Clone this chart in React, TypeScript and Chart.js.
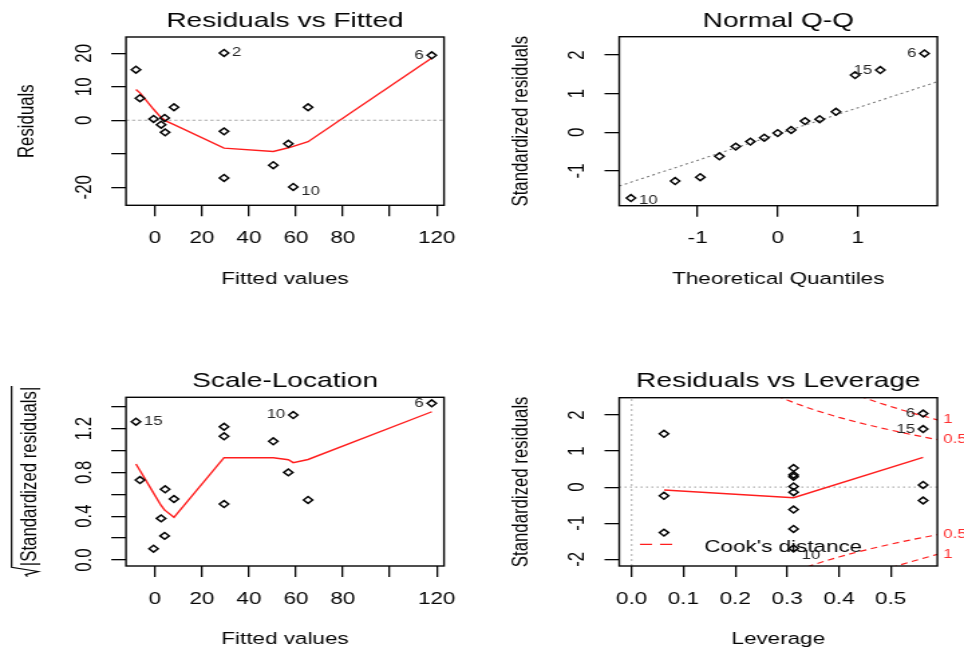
import React, { useEffect, useRef } from "react";
import { Chart, registerables } from "chart.js";

Chart.register(...registerables);

const FONT = "'Liberation Sans', Arial, Helvetica, sans-serif";
const INK = "#050505";
const RED = "#ff1e1e";

// ---- observations (same order in every array) ----
const fittedValues = [-8.1, -6.4, -0.6, 2.6, 4.1, 4.3, 8.1, 29.4, 29.4, 29.4, 50.4, 56.8, 58.9, 65.2, 117.9];
const residualValues = [15.1, 6.6, 0.4, -1.3, 0.7, -3.6, 3.9, 20.1, -3.3, -17.2, -13.4, -7.0, -19.9, 3.9, 19.4];
const sqrtStdResid = [1.263, 0.73, 0.103, 0.38, 0.22, 0.646, 0.557, 1.217, 0.511, 1.13, 1.084, 0.8, 1.324, 0.548, 1.431];

// lowess smooths through the sorted fitted values
const smoothFitted = [-8.1, -6.4, -0.6, 2.6, 4.1, 4.3, 8.1, 29.4, 50.4, 56.8, 58.9, 65.2, 117.9];
const residSmooth = [9.2, 8.2, 3.3, 0.8, 0.1, -0.1, -1.3, -8.3, -9.3, -8.2, -7.8, -6.4, 18.6];
const scaleSmooth = [0.877, 0.817, 0.611, 0.498, 0.456, 0.453, 0.39, 0.934, 0.934, 0.916, 0.889, 0.918, 1.354];

// normal Q-Q
const theoreticalQuantiles = [-1.834, -1.282, -0.967, -0.728, -0.524, -0.341, -0.168, 0, 0.168, 0.341, 0.524, 0.728, 0.967, 1.282, 1.834];
const sortedStdResid = [-1.7, -1.26, -1.16, -0.62, -0.37, -0.24, -0.14, -0.02, 0.06, 0.29, 0.34, 0.53, 1.48, 1.61, 2.04];
const qqIntercept = -0.045;
const qqSlope = 0.679;

// residuals vs leverage
const leverageValues = [0.0625, 0.0625, 0.0625, 0.3125, 0.3125, 0.3125, 0.3125, 0.3125, 0.3125, 0.3125, 0.3125, 0.5625, 0.5625, 0.5625, 0.5625];
const leverageStdResid = [1.48, -0.24, -1.26, 0.53, 0.34, 0.29, 0.02, -0.14, -0.62, -1.16, -1.7, 2.04, 1.61, 0.06, -0.37];
const leverageSmoothX = [0.0625, 0.3125, 0.5625];
const leverageSmoothY = [-0.079, -0.292, 0.827];

// Cook's distance contours (upper branch; lower branch is its mirror)
const cookHalfH = [0.28, 0.3, 0.32, 0.34, 0.36, 0.38, 0.4, 0.42, 0.44, 0.46, 0.48, 0.5, 0.52, 0.54, 0.56, 0.58, 0.59];
const cookHalfR = [2.536, 2.415, 2.305, 2.203, 2.108, 2.02, 1.936, 1.858, 1.784, 1.713, 1.646, 1.581, 1.519, 1.459, 1.402, 1.346, 1.318];
const cookOneH = [0.42, 0.44, 0.46, 0.48, 0.5, 0.52, 0.54, 0.56, 0.58, 0.59];
const cookOneR = [2.628, 2.523, 2.423, 2.327, 2.236, 2.148, 2.063, 1.983, 1.903, 1.864];

// labelled observations
const residIdIndex = [7, 12, 14];
const residIdText = ["2", "10", "6"];
const scaleIdIndex = [0, 12, 14];
const scaleIdText = ["15", "10", "6"];
const qqIdIndex = [0, 13, 14];
const qqIdText = ["10", "15", "6"];
const levIdIndex = [10, 12, 11];
const levIdText = ["10", "15", "6"];

// axis ticks and their labels
const fitTicks = [0, 20, 40, 60, 80, 100, 120];
const fitTickText = ["0", "20", "40", "60", "80", "", "120"];
const residTicks = [-20, -10, 0, 10, 20];
const residTickText = ["-20", "", "0", "10", "20"];
const qqXTicks = [-1, 0, 1];
const qqXTickText = ["-1", "0", "1"];
const qqYTicks = [-1, 0, 1, 2];
const qqYTickText = ["-1", "0", "1", "2"];
const scaleYTicks = [0, 0.2, 0.4, 0.6, 0.8, 1.0, 1.2, 1.4];
const scaleYTickText = ["0.0", "", "0.4", "", "0.8", "", "1.2", ""];
const levXTicks = [0, 0.1, 0.2, 0.3, 0.4, 0.5];
const levXTickText = ["0.0", "0.1", "0.2", "0.3", "0.4", "0.5"];
const levYTicks = [-2, -1, 0, 1, 2];
const levYTickText = ["-2", "-1", "0", "1", "2"];

// axis ranges
const fitRange = [-12.35, 123.1];
const residRange = [-25.37, 24.87];
const qqXRange = [-1.98, 1.995];
const qqYRange = [-1.898, 2.473];
const scaleYRange = [-0.055, 1.486];
const levXRange = [-0.0239, 0.59];
const levYRange = [-2.186, 2.48];

// ---- panel geometry (canvas pixels; canvas is widened on screen) ----
const PANEL_W = 360;
const PANEL_H = 290;
const DISPLAY_W = 482;
const AXIS_SIZE = 16.8;
const TITLE_SIZE = 21;
const ID_SIZE = 12.5;
const TICK_LEN = 11;

type Frame = { left: number; right: number; top: number; bottom: number };

const pts = (xs: number[], ys: number[]) => xs.map((x, i) => ({ x, y: ys[i] }));

const framePlugin = {
  id: "frameBox",
  afterDraw(chart: any) {
    const { ctx, chartArea: a } = chart;
    ctx.save();
    ctx.strokeStyle = INK;
    ctx.lineWidth = 1.4;
    ctx.strokeRect(a.left, a.top, a.right - a.left, a.bottom - a.top);
    ctx.restore();
  },
};

// y tick labels written parallel to the axis
const yTickTextPlugin = {
  id: "yTickText",
  afterDraw(chart: any, _args: any, opts: any) {
    if (!opts || !opts.text) return;
    const { ctx, chartArea: a } = chart;
    const s = chart.scales.y;
    ctx.save();
    ctx.font = `${AXIS_SIZE}px ${FONT}`;
    ctx.fillStyle = INK;
    ctx.textAlign = "center";
    ctx.textBaseline = "middle";
    const x = a.left - opts.offset;
    s.ticks.forEach((t: any, i: number) => {
      const label = opts.text[i];
      if (!label) return;
      ctx.save();
      ctx.translate(x, s.getPixelForValue(t.value));
      ctx.rotate(-Math.PI / 2);
      ctx.fillText(label, 0, 0);
      ctx.restore();
    });
    ctx.restore();
  },
};

// observation numbers next to the most extreme points
const idLabelPlugin = {
  id: "idLabels",
  afterDatasetsDraw(chart: any, _args: any, opts: any) {
    if (!opts || !opts.index) return;
    const { ctx } = chart;
    const meta = chart.getDatasetMeta(0);
    const data = chart.data.datasets[0].data;
    const xs = opts.index.map((i: number) => data[i].x);
    const mid = (Math.min(...xs) + Math.max(...xs)) / 2;
    ctx.save();
    ctx.font = `${ID_SIZE}px ${FONT}`;
    ctx.fillStyle = "#262626";
    ctx.textBaseline = "middle";
    opts.index.forEach((idx: number, k: number) => {
      const d = data[idx];
      const el = meta.data[idx];
      const toLeft = d.x > mid;
      ctx.textAlign = toLeft ? "right" : "left";
      const dx = toLeft ? -opts.gap : opts.gap;
      const dy = d.y < 0 ? opts.drop : 0;
      ctx.fillText(opts.text[k], el.x + dx, el.y + dy);
    });
    ctx.restore();
  },
};

const radicalTitlePlugin = {
  id: "radicalTitle",
  afterDraw(chart: any, _args: any, opts: any) {
    if (!opts || !opts.text) return;
    const { ctx, chartArea: a } = chart;
    const size = AXIS_SIZE;
    ctx.save();
    ctx.font = `${size}px ${FONT}`;
    const tw = ctx.measureText(opts.text).width;
    const rw = size * 0.62;
    const total = rw + tw;
    ctx.translate(opts.baselineX, (a.top + a.bottom) / 2);
    ctx.rotate(-Math.PI / 2);
    const x0 = -total / 2;
    ctx.fillStyle = INK;
    ctx.textAlign = "left";
    ctx.textBaseline = "alphabetic";
    ctx.fillText(opts.text, x0 + rw, 0);
    const barY = -size * 1.08;
    ctx.strokeStyle = INK;
    ctx.lineWidth = 1.2;
    ctx.beginPath();
    ctx.moveTo(x0, -size * 0.38);
    ctx.lineTo(x0 + size * 0.12, -size * 0.46);
    ctx.lineTo(x0 + size * 0.3, size * 0.1);
    ctx.lineTo(x0 + size * 0.55, barY);
    ctx.lineTo(x0 + rw + tw + size * 0.05, barY);
    ctx.stroke();
    ctx.restore();
  },
};

const cookLabelPlugin = {
  id: "cookLabels",
  afterDraw(chart: any, _args: any, opts: any) {
    if (!opts || !opts.items) return;
    const { ctx, chartArea: a } = chart;
    const y = chart.scales.y;
    ctx.save();
    ctx.font = `${ID_SIZE}px ${FONT}`;
    ctx.fillStyle = "#ff3030";
    ctx.textAlign = "left";
    ctx.textBaseline = "middle";
    opts.items.forEach((it: any) => {
      ctx.fillText(it.text, a.right + opts.gap, y.getPixelForValue(it.value));
    });
    ctx.restore();
  },
};

const cookLegendPlugin = {
  id: "cookLegend",
  afterDraw(chart: any, _args: any, opts: any) {
    if (!opts || !opts.text) return;
    const { ctx, chartArea: a } = chart;
    ctx.save();
    ctx.strokeStyle = RED;
    ctx.lineWidth = 1.3;
    ctx.setLineDash([9, 6]);
    ctx.beginPath();
    ctx.moveTo(a.left + 15.5, a.bottom - 21.7);
    ctx.lineTo(a.left + 44, a.bottom - 21.7);
    ctx.stroke();
    ctx.setLineDash([]);
    ctx.font = `${AXIS_SIZE}px ${FONT}`;
    ctx.fillStyle = INK;
    ctx.textAlign = "left";
    ctx.textBaseline = "middle";
    ctx.fillText(opts.text, a.left + 63.5, a.bottom - 18.3);
    ctx.restore();
  },
};

const tickGrid = {
  drawOnChartArea: false,
  drawTicks: true,
  tickLength: TICK_LEN,
  color: INK,
  lineWidth: 1.3,
};

function axisX(frame: Frame, range: number[], ticks: number[], text: string[], title: string) {
  return {
    type: "linear",
    position: "bottom",
    min: range[0],
    max: range[1],
    bounds: "data",
    afterBuildTicks: (s: any) => {
      s.ticks = ticks.map((v) => ({ value: v }));
    },
    afterFit: (s: any) => {
      s.height = PANEL_H - frame.bottom;
    },
    grid: tickGrid,
    border: { display: false },
    ticks: {
      autoSkip: false,
      maxRotation: 0,
      minRotation: 0,
      padding: 13.6,
      color: INK,
      font: { family: FONT, size: AXIS_SIZE, lineHeight: 1 },
      callback: (_v: any, i: number) => text[i],
    },
    title: {
      display: true,
      text: title,
      color: INK,
      font: { family: FONT, size: AXIS_SIZE, lineHeight: 1 },
      padding: { top: 0, bottom: 2.3 },
    },
  };
}

function axisY(frame: Frame, range: number[], ticks: number[], title: string | null, titlePad: number) {
  return {
    type: "linear",
    position: "left",
    min: range[0],
    max: range[1],
    bounds: "data",
    afterBuildTicks: (s: any) => {
      s.ticks = ticks.map((v) => ({ value: v }));
    },
    afterFit: (s: any) => {
      s.width = frame.left;
    },
    grid: tickGrid,
    border: { display: false },
    ticks: { display: false },
    title: title
      ? {
          display: true,
          text: title,
          color: INK,
          font: { family: FONT, size: AXIS_SIZE, lineHeight: 1 },
          padding: { top: titlePad, bottom: 0 },
        }
      : { display: false },
  };
}

function baseOptions(frame: Frame, title: string, scales: any, extra: any) {
  return {
    responsive: false,
    maintainAspectRatio: false,
    animation: false,
    devicePixelRatio: 1,
    events: [],
    layout: { autoPadding: false, padding: { left: 0, top: 0, bottom: 0, right: PANEL_W - frame.right } },
    scales,
    plugins: {
      legend: { display: false },
      tooltip: { enabled: false },
      title: {
        display: true,
        text: title,
        fullSize: false,
        color: INK,
        font: { family: FONT, size: TITLE_SIZE, weight: "normal", lineHeight: 1 },
        padding: { top: 10.3, bottom: frame.top - TITLE_SIZE - 10.3 },
      },
      ...extra,
    },
  };
}

const pointStyle = {
  showLine: false,
  pointStyle: "rectRot",
  pointRadius: 3.4,
  pointBorderColor: INK,
  pointBackgroundColor: "rgba(0,0,0,0)",
  pointBorderWidth: 1.5,
};

const lineStyle = (color: string, dash: number[], width = 1.4) => ({
  showLine: true,
  borderColor: color,
  borderWidth: width,
  borderDash: dash,
  pointRadius: 0,
  tension: 0,
  fill: false,
});

const PLUGINS = [framePlugin, yTickTextPlugin, idLabelPlugin, radicalTitlePlugin, cookLabelPlugin, cookLegendPlugin];

const frameFitted: Frame = { left: 94.1, right: 331.6, top: 37, bottom: 205.3 };
const frameQQ: Frame = { left: 102.5, right: 340.1, top: 36.7, bottom: 205.7 };
const frameScale: Frame = { left: 94.1, right: 331.6, top: 37.3, bottom: 206 };
const frameLev: Frame = { left: 102.5, right: 340.1, top: 37.7, bottom: 206 };

function residualsVsFitted() {
  return {
    type: "scatter",
    data: {
      datasets: [
        { data: pts(fittedValues, residualValues), ...pointStyle },
        { data: pts(smoothFitted, residSmooth), ...lineStyle(RED, []) },
        { data: pts(fitRange, [0, 0]), ...lineStyle("#a8a8a8", [2.5, 2], 1.1) },
      ],
    },
    options: baseOptions(
      frameFitted,
      "Residuals vs Fitted",
      {
        x: axisX(frameFitted, fitRange, fitTicks, fitTickText, "Fitted values"),
        y: axisY(frameFitted, residRange, residTicks, "Residuals", 12.4),
      },
      {
        yTickText: { text: residTickText, offset: 30.8 },
        idLabels: { index: residIdIndex, text: residIdText, gap: 6, drop: 5 },
      }
    ),
    plugins: PLUGINS,
  };
}

function normalQQ() {
  return {
    type: "scatter",
    data: {
      datasets: [
        { data: pts(theoreticalQuantiles, sortedStdResid), ...pointStyle },
        {
          data: pts(qqXRange, qqXRange.map((q) => qqIntercept + qqSlope * q)),
          ...lineStyle("#7a7a7a", [2, 2.5], 1.1),
        },
      ],
    },
    options: baseOptions(
      frameQQ,
      "Normal Q-Q",
      {
        x: axisX(frameQQ, qqXRange, qqXTicks, qqXTickText, "Theoretical Quantiles"),
        y: axisY(frameQQ, qqYRange, qqYTicks, "Standardized residuals", 20.6),
      },
      {
        yTickText: { text: qqYTickText, offset: 30.8 },
        idLabels: { index: qqIdIndex, text: qqIdText, gap: 6, drop: 3 },
      }
    ),
    plugins: PLUGINS,
  };
}

function scaleLocation() {
  return {
    type: "scatter",
    data: {
      datasets: [
        { data: pts(fittedValues, sqrtStdResid), ...pointStyle },
        { data: pts(smoothFitted, scaleSmooth), ...lineStyle(RED, []) },
      ],
    },
    options: baseOptions(
      frameScale,
      "Scale-Location",
      {
        x: axisX(frameScale, fitRange, fitTicks, fitTickText, "Fitted values"),
        y: axisY(frameScale, scaleYRange, scaleYTicks, null, 0),
      },
      {
        yTickText: { text: scaleYTickText, offset: 30.8 },
        idLabels: { index: scaleIdIndex, text: scaleIdText, gap: 6, drop: 0 },
        radicalTitle: { text: "|Standardized residuals|", baselineX: 26.8 },
      }
    ),
    plugins: PLUGINS,
  };
}

function residualsVsLeverage() {
  const lastHalf = cookHalfR[cookHalfR.length - 1];
  const lastOne = cookOneR[cookOneR.length - 1];
  const cookDash = [5, 3.5];
  return {
    type: "scatter",
    data: {
      datasets: [
        { data: pts(leverageValues, leverageStdResid), ...pointStyle },
        { data: pts(leverageSmoothX, leverageSmoothY), ...lineStyle(RED, []) },
        { data: pts(levXRange, [0, 0]), ...lineStyle("#b0b0b0", [1.5, 2.5], 1.1) },
        { data: pts([0, 0], levYRange), ...lineStyle("#b0b0b0", [2, 3], 1.1) },
        { data: pts(cookHalfH, cookHalfR), ...lineStyle(RED, cookDash, 1.2) },
        { data: pts(cookHalfH, cookHalfR.map((r) => -r)), ...lineStyle(RED, cookDash, 1.2) },
        { data: pts(cookOneH, cookOneR), ...lineStyle(RED, cookDash, 1.2) },
        { data: pts(cookOneH, cookOneR.map((r) => -r)), ...lineStyle(RED, cookDash, 1.2) },
      ],
    },
    options: baseOptions(
      frameLev,
      "Residuals vs Leverage",
      {
        x: axisX(frameLev, levXRange, levXTicks, levXTickText, "Leverage"),
        y: axisY(frameLev, levYRange, levYTicks, "Standardized residuals", 20.6),
      },
      {
        yTickText: { text: levYTickText, offset: 30.8 },
        idLabels: { index: levIdIndex, text: levIdText, gap: 6, drop: 7 },
        cookLabels: {
          gap: 4.5,
          items: [
            { value: lastOne, text: "1" },
            { value: lastHalf, text: "0.5" },
            { value: -lastHalf, text: "0.5" },
            { value: -lastOne, text: "1" },
          ],
        },
        cookLegend: { text: "Cook's distance" },
      }
    ),
    plugins: PLUGINS,
  };
}

function ChartPanel({ x, y, make }: { x: number; y: number; make: () => any }) {
  const ref = useRef<HTMLCanvasElement>(null);
  useEffect(() => {
    const chart = new Chart(ref.current as HTMLCanvasElement, make());
    return () => chart.destroy();
  }, [make]);
  return (
    <canvas
      ref={ref}
      width={PANEL_W}
      height={PANEL_H}
      style={{ position: "absolute", left: x, top: y, width: DISPLAY_W, height: PANEL_H }}
    />
  );
}

export default function App() {
  return (
    <div style={{ position: "absolute", left: 0, top: 0, width: 964, height: 650, background: "#fff", overflow: "hidden" }}>
      <ChartPanel x={0} y={0} make={residualsVsFitted} />
      <ChartPanel x={482} y={0} make={normalQQ} />
      <ChartPanel x={0} y={360} make={scaleLocation} />
      <ChartPanel x={482} y={360} make={residualsVsLeverage} />
    </div>
  );
}
